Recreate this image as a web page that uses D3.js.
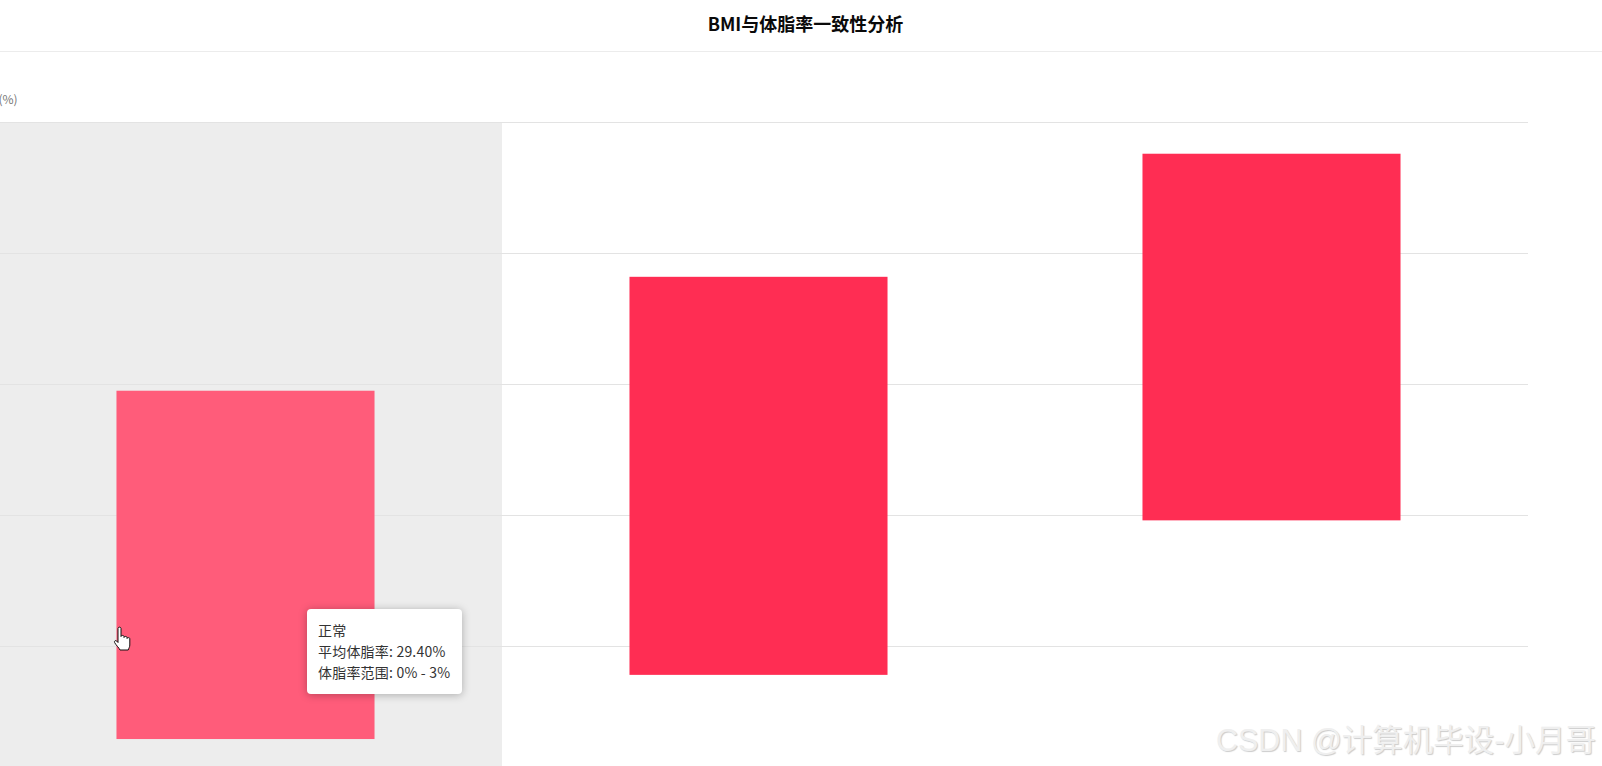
<!DOCTYPE html>
<html>
<head>
<meta charset="utf-8">
<script src="https://cdn.jsdelivr.net/npm/d3@7"></script>
<style>
html, body { margin: 0; padding: 0; background: #fff; overflow: hidden; }
#page { position: relative; width: 1602px; height: 766px; overflow: hidden; font-family: "Noto Sans CJK SC", "Noto Sans", sans-serif; }
svg { position: absolute; left: 0; top: 0; }
.grid line { stroke: #e3e3e3; stroke-width: 1px; shape-rendering: crispEdges; }
.grid path, .grid text { display: none; }
#tip { position: absolute; left: 307px; top: 609px; width: 155px; height: 85px; box-sizing: border-box; padding: 11px 0 0 11px;
  background: #fff; border-radius: 4px; box-shadow: 0 1px 8px rgba(0,0,0,.28); font-size: 14px; letter-spacing: .2px; line-height: 21px; color: #333; white-space: nowrap; }
#mark { position: absolute; left: 1216px; top: 716px; font: 30.5px "Liberation Sans", "Noto Sans CJK SC", sans-serif; color: #efefef;
  text-shadow: 1px 1px 1px #cccccc; white-space: nowrap; }
</style>
</head>
<body>
<div id="page"></div>
<script>
// BMI vs body fat, floating bars (low to high)
var categories = ["正常", "超重", "肥胖"];
var lowValues = [2.9, 7.8, 19.6];
var highValues = [29.5, 38.2, 47.6];
var yTicks = [0, 10, 20, 30, 40, 50];
var titleText = "BMI与体脂率一致性分析";
var yName = "(%)";
var tipLines = ["正常", "平均体脂率: 29.40%", "体脂率范围: 0% - 3%"];
var hovered = "正常";

var width = 1602, height = 766;
var page = d3.select("#page");
var svg = page.append("svg").attr("width", width).attr("height", height);

var x = d3.scaleBand().domain(categories).range([-11, 1528]);
var y = d3.scaleLinear().domain([0, 50]).range([777, 122.3]);

// title bar
svg.append("text")
  .attr("x", 805.5).attr("y", 31)
  .attr("text-anchor", "middle")
  .attr("font-size", 18).attr("font-weight", 700).attr("fill", "#0a0a0a")
  .text(titleText);
svg.append("line")
  .attr("x1", 0).attr("x2", width).attr("y1", 51.5).attr("y2", 51.5)
  .attr("stroke", "#ececec");

// hover band
svg.append("rect")
  .attr("x", x(hovered)).attr("y", y(50))
  .attr("width", x.bandwidth()).attr("height", height - y(50))
  .attr("fill", "#ededed");

// gridlines through the axis, its labels fall outside the crop
svg.append("g")
  .attr("class", "grid")
  .call(d3.axisLeft(y).tickValues(yTicks).tickSize(-1528).offset(0));

svg.append("text")
  .attr("x", -1.5).attr("y", 104)
  .attr("font-size", 12).attr("fill", "#777")
  .text(yName);

// bars
var barW = x.bandwidth() * 0.503;
svg.selectAll("rect.bar")
  .data(categories)
  .enter()
  .append("rect")
  .attr("class", "bar")
  .attr("x", function(d) { return x(d) + (x.bandwidth() - barW) / 2; })
  .attr("width", barW)
  .attr("y", function(d, i) { return y(highValues[i]); })
  .attr("height", function(d, i) { return y(lowValues[i]) - y(highValues[i]); })
  .attr("fill", function(d) { return d === hovered ? "#ff5c7a" : "#ff2d53"; });

// hand cursor
svg.append("path")
  .attr("transform", "translate(114,627)")
  .attr("d", "M4 1.5c0-1.8 3-1.8 3 0v8c0-1.4 3-1.4 3 0v1c0-1.4 3-1.4 3 0v1c0-1.2 2.8-1.2 2.8.2v6.3c0 2-1 3-1.6 5H6c-.8-2-4.5-5.5-5.4-7.5-.7-1.5 1-2.6 2.2-1.4l1.2 1.4z")
  .attr("fill", "#fff").attr("stroke", "#111").attr("stroke-width", 1);

// tooltip
page.append("div").attr("id", "tip")
  .selectAll("div")
  .data(tipLines)
  .enter()
  .append("div")
  .text(function(d) { return d; });

page.append("div").attr("id", "mark").text("CSDN @计算机毕设-小月哥");
</script>
</body>
</html>
